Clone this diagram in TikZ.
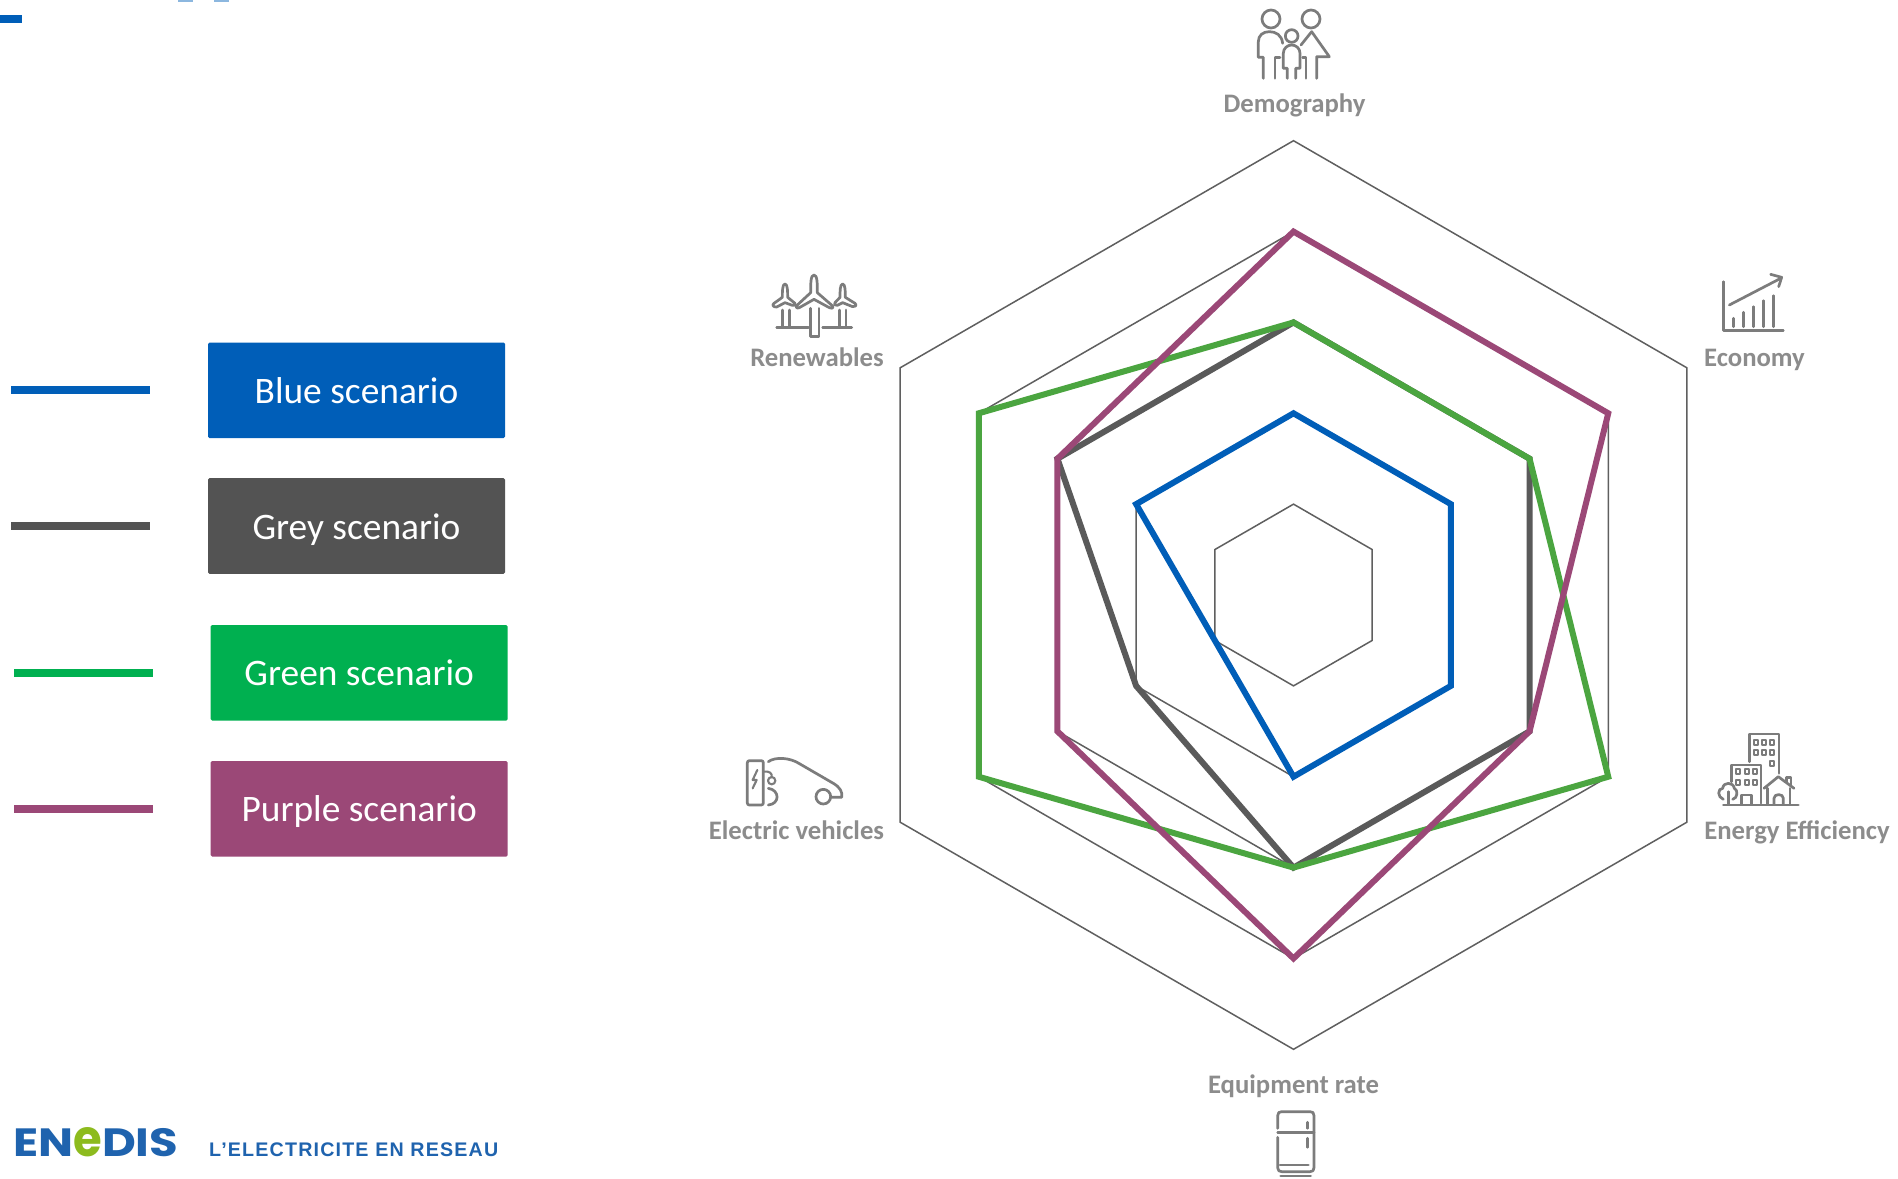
\documentclass[tikz,border=0pt]{standalone}
\usepackage{fontspec}
\setmainfont{Carlito}
\newfontfamily\tagfont[LetterSpace=6]{Liberation Sans}
\newfontfamily\logofont{Poppins}
\usetikzlibrary{calc}
\definecolor{cblue}{HTML}{005EB8}
\definecolor{cgrey}{HTML}{535353}
\definecolor{cgreen}{HTML}{00B050}
\definecolor{cpurple}{HTML}{9B4877}
\definecolor{sgreen}{HTML}{4BA540}
\definecolor{sgrey}{HTML}{5A5A5A}
\definecolor{ring}{HTML}{5F5F5F}
\definecolor{lab}{HTML}{8C8C8C}
\definecolor{ico}{HTML}{7C7C7C}
\definecolor{lblue}{HTML}{1F63AE}
\definecolor{lgreen}{HTML}{8DBB1E}
\tikzset{
  x=1pt,y=-1pt,
  ringline/.style={draw=ring,line width=1.5pt,line join=miter},
  serie/.style={line width=6pt,line join=miter},
  legbox/.style={rectangle,rounded corners=1.5pt,minimum width=297pt,minimum height=95.6pt,inner sep=0pt,text height=26pt,text depth=0pt,text=white,font=\fontsize{37.4}{42}\selectfont},
  legline/.style={line width=8pt},
  axlabel/.style={anchor=base,inner sep=0pt,text=lab,font=\fontsize{26.7}{30}\selectfont\bfseries},
  icon/.style={draw=ico,line width=2.7pt,line cap=round,line join=round,fill=none},
  iconthin/.style={draw=ico,line width=2.1pt,line cap=round,line join=round,fill=none},
}
\begin{document}
\begin{tikzpicture}
\useasboundingbox (0,0) rectangle (1898,1178);
\fill[white] (0,0) rectangle (1898,1178);

% fragments clipped by the top edge
\fill[cblue] (0,15) rectangle (22,22.5);
\fill[cblue!45] (178,0) rectangle (193,1.5);
\fill[cblue!45] (214,0) rectangle (229,1.5);

% radar grid vertices
\foreach \r in {1,...,5}{
  \foreach \i in {0,...,5}{
    \coordinate (v\r-\i) at ({1293.5+\r*90.86*sin(\i*60)},{595-\r*90.86*cos(\i*60)});
  }
}
\foreach \r in {1,...,5}{
  \draw[ringline] (v\r-0)--(v\r-1)--(v\r-2)--(v\r-3)--(v\r-4)--(v\r-5)--cycle;
}
% series
\draw[serie,cblue] (v2-0)--(v2-1)--(v2-2)--(v2-3)--(v1-4)--(v2-5)--cycle;
\draw[serie,sgrey] (v3-0)--(v3-1)--(v3-2)--(v3-3)--(v2-4)--(v3-5)--cycle;
\draw[serie,sgreen] (v3-0)--(v3-1)--(v4-2)--(v3-3)--(v4-4)--(v4-5)--cycle;
\draw[serie,cpurple] (v4-0)--(v4-1)--(v3-2)--(v4-3)--(v3-4)--(v3-5)--cycle;

% legend
\node[legbox,fill=cblue] (bb) at (356.5,390.3) {Blue scenario};
\node[legbox,fill=cgrey] (bg) at (356.5,526) {Grey scenario};
\node[legbox,fill=cgreen] (bv) at (359.2,672.8) {Green scenario};
\node[legbox,fill=cpurple] (bp) at (359.2,808.8) {Purple scenario};
\coordinate (lb) at (11,390.3);  \coordinate (lbe) at (150,390.3);
\coordinate (lg) at (11,526);    \coordinate (lge) at (150,526);
\coordinate (lv) at (14,672.8);  \coordinate (lve) at (153,672.8);
\coordinate (lp) at (14,808.8);  \coordinate (lpe) at (153,808.8);
\draw[legline,cblue] (lb)--(lbe);
\draw[legline,cgrey] (lg)--(lge);
\draw[legline,cgreen] (lv)--(lve);
\draw[legline,cpurple] (lp)--(lpe);

% axis labels
\node[axlabel] (tdem) at (1294.5,112) {Demography};
\node[axlabel] (teco) at (1754.5,366.5) {Economy};
\node[axlabel] (tene) at (1797,839) {Energy Efficiency};
\node[axlabel] (tequ) at (1293.5,1093.7) {Equipment rate};
\node[axlabel] (tele) at (796.5,839) {Electric vehicles};
\node[axlabel] (tren) at (817,366) {Renewables};

% Demography icon
\begin{scope}[shift={(1200,0)},x=0.3333pt,y=-0.3333pt]
  \draw[icon] (213,57) circle (27);
  \draw[icon] (333,57) circle (27);
  \draw[icon] (275,108) circle (19);
  \draw[icon] (190,235)--(190,172)--(175,172)--(175,125) .. controls (175,105) and (190,95) .. (208,95) .. controls (228,95) and (245,105) .. (248,130);
  \draw[icon] (225,235)--(225,172)--(240,172);
  \draw[icon] (262,235)--(262,205)--(250,205)--(250,160) .. controls (250,145) and (262,135) .. (275,135) .. controls (288,135) and (300,145) .. (300,160)--(300,205)--(287,205)--(287,235);
  \draw[icon] (303,135)--(335,95)--(388,170)--(350,170)--(350,235);
  \draw[icon] (308,172)--(318,172)--(318,235);
\end{scope}

% Economy icon
\begin{scope}[shift={(1690,260)},x=0.3333pt,y=-0.3333pt]
  \draw[icon] (100,65)--(100,212)--(280,212);
  \draw[icon] (130,175)--(130,200);
  \draw[icon] (160,157)--(160,200);
  \draw[icon] (190,140)--(190,200);
  \draw[icon] (220,122)--(220,200);
  \draw[icon] (250,107)--(250,200);
  \draw[icon] (118,135)--(272,55);
  \draw[icon] (242,43)--(275,52)--(266,80);
\end{scope}

% Energy efficiency icon
\begin{scope}[shift={(1690,720)},x=0.3333pt,y=-0.3333pt]
  \draw[icon] (178,125)--(178,42)--(267,42)--(267,160);
  \foreach \wx in {197,222,247}{
    \foreach \wy in {68,97}{
      \draw[iconthin] (\wx-6,\wy-7) rectangle (\wx+6,\wy+7);
    }
  }
  \draw[iconthin] (241,123) rectangle (253,137);
  \draw[icon] (125,185)--(125,135)--(213,135)--(213,250);
  \foreach \wx in {145,170,195}{
    \foreach \wy in {155,187}{
      \draw[iconthin] (\wx-6,\wy-7) rectangle (\wx+6,\wy+7);
    }
  }
  \draw[icon] (100,238) .. controls (82,232) and (82,205) .. (98,205) .. controls (100,185) and (130,185) .. (133,205) .. controls (145,210) and (143,235) .. (128,238);
  \draw[icon] (115,215)--(115,252);
  \draw[icon] (100,255)--(325,255);
  \draw[icon] (155,252)--(155,225)--(185,225)--(185,252);
  \draw[icon] (222,205)--(265,170)--(312,205);
  \draw[icon] (290,185)--(290,172)--(303,172)--(303,195);
  \draw[icon] (232,205)--(232,252);
  \draw[icon] (300,205)--(300,252);
  \draw[icon] (252,252)--(252,235) .. controls (252,220) and (280,220) .. (280,235)--(280,252);
\end{scope}

% Equipment rate icon
\begin{scope}[shift={(1190,1060)},x=0.3333pt,y=-0.3333pt]
  \draw[icon] (263,205) -- (263,167) .. controls (263,158) and (268,155) .. (275,155) -- (360,155) .. controls (368,155) and (372,158) .. (372,167) -- (372,323) .. controls (372,332) and (368,335) .. (360,335) -- (275,335) .. controls (268,335) and (263,332) .. (263,323) -- (263,232);
  \draw[icon] (263,217)--(372,217);
  \draw[icon] (352,187)--(352,205);
  \draw[icon] (352,235)--(352,262);
  \draw[icon] (270,315)--(355,315);
  \draw[icon] (272,348)--(362,348);
\end{scope}

% Electric vehicles icon
\begin{scope}[shift={(700,740)},x=0.3333pt,y=-0.3333pt]
  \draw[icon,rounded corners=2pt] (142,62) rectangle (190,195);
  \draw[iconthin] (172,90)--(158,120)--(170,120)--(158,145);
  \draw[icon] (205,65) .. controls (225,50) and (270,52) .. (300,72) -- (400,130) .. controls (420,142) and (428,155) .. (425,172) -- (395,172);
  \draw[icon] (370,170) circle (22);
  \draw[icon] (205,145) .. controls (240,150) and (240,192) .. (205,195);
  \draw[iconthin] (190,95) .. controls (208,92) and (218,100) .. (215,112);
  \draw[iconthin] (215,122) circle (11);
\end{scope}

% Renewables icon
\begin{scope}[shift={(740,260)},x=0.3333pt,y=-0.3333pt]
  \draw[icon] (222,45) .. controls (232,45) and (232,70) .. (232,98) -- (278,138) .. controls (282,145) and (272,147) .. (268,143) -- (222,118) -- (178,143) .. controls (170,147) and (165,140) .. (172,135) -- (212,98) .. controls (212,70) and (212,45) .. (222,45) -- cycle;
  \draw[icon] (212,145)--(212,230)--(237,230)--(237,145);
  \draw[icon] (110,203)--(205,203);
  \draw[icon] (248,203)--(335,203);
  \draw[icon] (135,72) .. controls (143,72) and (143,95) .. (143,112) -- (165,130) .. controls (168,136) and (160,138) .. (157,136) -- (135,128) -- (110,141) .. controls (100,142) and (95,135) .. (102,130) -- (127,112) .. controls (127,95) and (127,72) .. (135,72) -- cycle;
  \draw[icon] (128,150)--(128,200);
  \draw[icon] (148,150)--(148,200);
  \draw[icon] (308,72) .. controls (316,72) and (316,95) .. (316,112) -- (345,130) .. controls (352,136) and (345,142) .. (338,140) -- (308,128) -- (292,136) .. controls (285,138) and (280,132) .. (285,128) -- (300,112) .. controls (300,95) and (300,72) .. (308,72) -- cycle;
  \draw[icon] (298,150)--(298,200);
  \draw[icon] (318,150)--(318,200);
\end{scope}

% logo
\node[anchor=south west,inner sep=0pt] (logo) at (13,1157.5) {\resizebox{165pt}{29pt}{\logofont\bfseries\color{lblue}EN{\color{lgreen}\scalebox{1}[1.3]{e}}DIS}};
\node[anchor=base west,inner sep=0pt,text=lblue] (tag) at (209,1156) {\resizebox{289pt}{!}{\fontsize{18.6}{20}\tagfont\bfseries L’ELECTRICITE EN RESEAU}};
\end{tikzpicture}
\end{document}
